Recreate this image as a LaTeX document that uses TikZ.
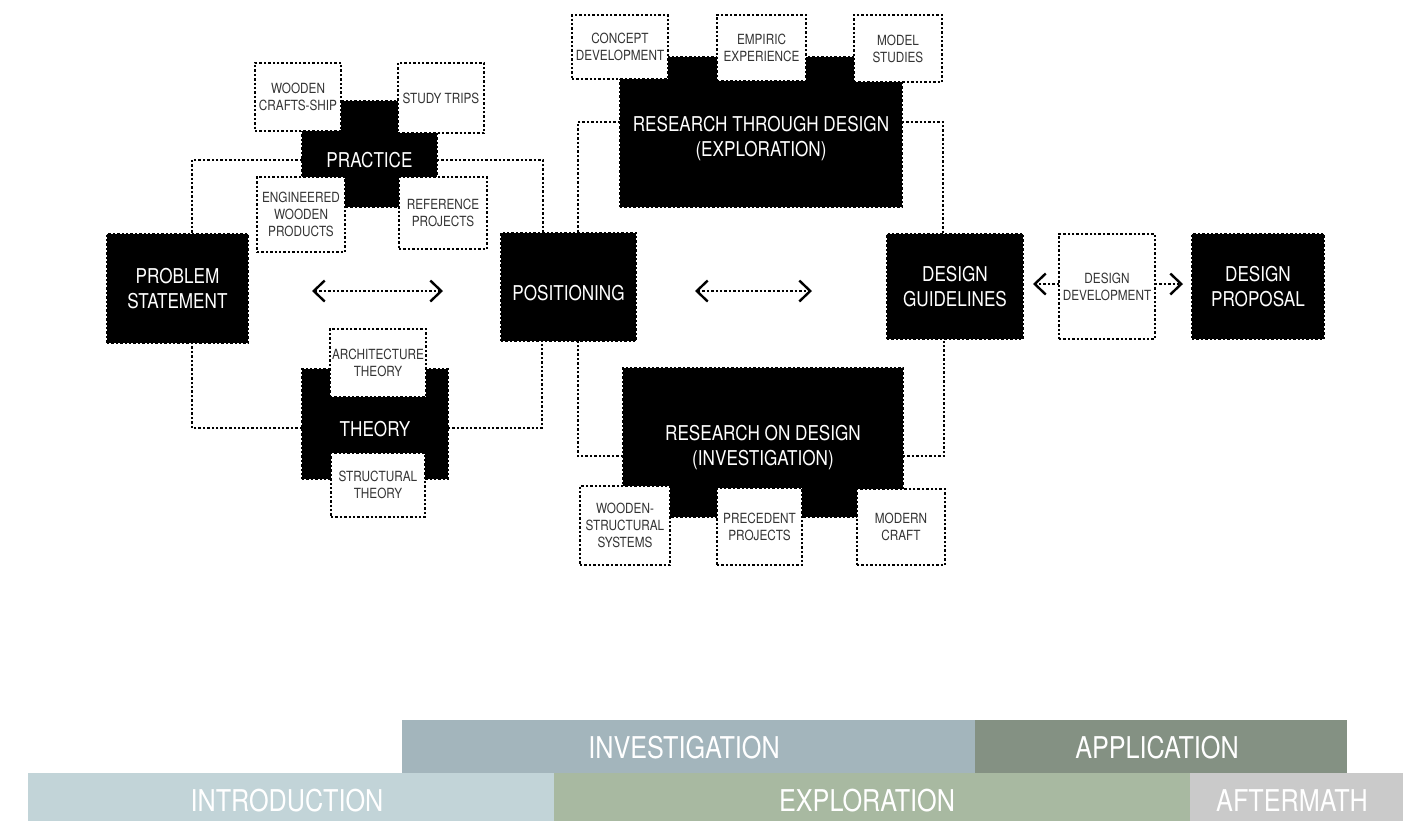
\documentclass[tikz,border=0pt]{standalone}
\usepackage{fontspec}
\setmainfont{TeX Gyre Heros}[FakeStretch=0.84]
\usetikzlibrary{arrows.meta}
\definecolor{txtgray}{HTML}{333333}
\definecolor{invcol}{HTML}{A3B5BC}
\definecolor{appcol}{HTML}{849183}
\definecolor{intcol}{HTML}{C2D4D8}
\definecolor{expcol}{HTML}{A8B9A1}
\definecolor{aftcol}{HTML}{CACACA}
\tikzset{
  dotpat/.style={line width=1.25pt, dash pattern=on 1.2pt off 1.0pt},
  conn/.style={dotpat, draw=black},
  blk/.style={dotpat, draw=black, fill=black, inner sep=0pt},
  blktxt/.style={text=white, font=\fontsize{10.2}{12.5}\selectfont, align=center, inner sep=0pt},
  wbox/.style={dotpat, draw=black, fill=white, text=txtgray, align=center, inner sep=0pt,
    font=\fontsize{7}{8.4}\selectfont},
  dbl/.style={dotpat, {Straight Barb[length=5.5pt,width=10.5pt,line width=1.2pt]}-{Straight Barb[length=5.5pt,width=10.5pt,line width=1.2pt]}},
  sgl/.style={dotpat, -{Straight Barb[length=5.5pt,width=10.5pt,line width=1.2pt]}},
  band/.style={inner sep=0pt, outer sep=0pt, text=white, font=\fontsize{15}{18}\selectfont},
}
\begin{document}
\begin{tikzpicture}[x=0.5pt, y=-0.5pt]
\useasboundingbox (0,0) rectangle (1413,821);

% ---------- black boxes (geometry) ----------
\node[blk, minimum width=70.5pt, minimum height=54.5pt] (ps) at (177.5,288.5) {};
\node[blk, minimum width=67.5pt, minimum height=53pt] (prac) at (369.5,154) {};
\node[blk, minimum width=67.5pt, minimum height=54pt] (pos) at (568.5,287) {};
\node[blk, minimum width=73pt, minimum height=55pt] (theo) at (375,424) {};
\node[blk, minimum width=141pt, minimum height=75pt] (rtd) at (761,132) {};
\node[blk, minimum width=140pt, minimum height=74.5pt] (rod) at (763,442.5) {};
\node[blk, minimum width=68pt, minimum height=52.5pt] (dg) at (955,286.5) {};
\node[blk, minimum width=66pt, minimum height=52.5pt] (dp) at (1258,286.5) {};

% ---------- connector corner coordinates ----------
\coordinate (psT) at (192,234);
\coordinate (psB) at (192,343);
\coordinate (posTl) at (543,233);
\coordinate (posTr) at (578,233);
\coordinate (posBl) at (542,341);
\coordinate (posBr) at (578,341);
\coordinate (dgT) at (943,234);
\coordinate (dgB) at (944,339);
\coordinate (pracL) at (302,160);
\coordinate (pracR) at (437,160);
\coordinate (theoL) at (302,428);
\coordinate (theoR) at (448,428);
\coordinate (rtdL) at (620,122);
\coordinate (rtdR) at (902,122);
\coordinate (rodL) at (623,456);
\coordinate (rodR) at (903,456);

% ---------- connectors ----------
\draw[conn] (pracL) -| (psT);
\draw[conn] (pracR) -| (posTl);
\draw[conn] (theoL) -| (psB);
\draw[conn] (theoR) -| (posBl);
\draw[conn] (rtdL) -| (posTr);
\draw[conn] (rtdR) -| (dgT);
\draw[conn] (rodL) -| (posBr);
\draw[conn] (rodR) -| (dgB);

% redraw black boxes over connector ends
\node[blk, minimum width=70.5pt, minimum height=54.5pt] at (ps) {};
\node[blk, minimum width=67.5pt, minimum height=53pt] at (prac) {};
\node[blk, minimum width=67.5pt, minimum height=54pt] at (pos) {};
\node[blk, minimum width=73pt, minimum height=55pt] at (theo) {};
\node[blk, minimum width=141pt, minimum height=75pt] at (rtd) {};
\node[blk, minimum width=140pt, minimum height=74.5pt] at (rod) {};
\node[blk, minimum width=68pt, minimum height=52.5pt] at (dg) {};
\node[blk, minimum width=66pt, minimum height=52.5pt] at (dp) {};

% ---------- black box labels ----------
\node[blktxt] (pst) at (177.5,289) {PROBLEM\\STATEMENT};
\node[blktxt] (prt) at (369.5,160) {PRACTICE};
\node[blktxt] (post) at (568.5,293) {POSITIONING};
\node[blktxt] (theot) at (375,429.5) {THEORY};
\node[blktxt] (rtdt) at (761,139) {RESEARCH THROUGH DESIGN\\(EXPLORATION)};
\node[blktxt] (rodt) at (763,448) {RESEARCH ON DESIGN\\(INVESTIGATION)};
\node[blktxt] (dgt) at (955,287) {DESIGN\\GUIDELINES};
\node[blktxt] (dpt) at (1258,287) {DESIGN\\PROPOSAL};

% ---------- white dotted boxes ----------
\node[wbox, minimum width=43pt, minimum height=34pt] (wcs) at (298,97) {WOODEN\\CRAFTS-SHIP};
\node[wbox, minimum width=43pt, minimum height=35pt] (st) at (441,98) {STUDY TRIPS};
\node[wbox, minimum width=44pt, minimum height=37.5pt] (ewp) at (301,214.5) {ENGINEERED\\WOODEN\\PRODUCTS};
\node[wbox, minimum width=44pt, minimum height=36pt] (rp) at (443,213) {REFERENCE\\PROJECTS};
\node[wbox, minimum width=48pt, minimum height=34pt] (at) at (378,363) {\raisebox{-3pt}{\shortstack{ARCHITECTURE\\THEORY}}};
\node[wbox, minimum width=47pt, minimum height=32pt] (sth) at (378,485) {STRUCTURAL\\THEORY};
\node[wbox, minimum width=48pt, minimum height=32pt] (cd) at (620,47) {CONCEPT\\DEVELOPMENT};
\node[wbox, minimum width=44.5pt, minimum height=33pt] (ee) at (761.5,48) {EMPIRIC\\EXPERIENCE};
\node[wbox, minimum width=44pt, minimum height=33.5pt] (ms) at (898,48.5) {MODEL\\STUDIES};
\node[wbox, minimum width=45pt, minimum height=39.5pt] (wss) at (625,525.5) {WOODEN-\\STRUCTURAL\\SYSTEMS};
\node[wbox, minimum width=42.5pt, minimum height=38.5pt] (pp) at (759.5,526.5) {PRECEDENT\\PROJECTS};
\node[wbox, minimum width=44pt, minimum height=38pt] (mc) at (901,527) {MODERN\\CRAFT};
\node[wbox, minimum width=48pt, minimum height=52.5pt] (dd) at (1107,286.5) {DESIGN\\DEVELOPMENT};

% ---------- arrows ----------
\coordinate (a1) at (312,291);
\coordinate (a2) at (443,291);
\coordinate (a3) at (695,291);
\coordinate (a4) at (812,291);
\draw[dbl] (a1) -- (a2);
\draw[dbl] (a3) -- (a4);
\coordinate (ddL) at (1059,284);
\coordinate (ddR) at (1155,284);
\coordinate (dgR) at (1033,284);
\coordinate (dpL) at (1183,284);
\draw[sgl] (ddL) -- (dgR);
\draw[sgl] (ddR) -- (dpL);

% ---------- phase bands ----------
\fill[invcol] (402,720) rectangle (975,773);
\fill[appcol] (975,720) rectangle (1347,773);
\fill[intcol] (28,773) rectangle (554,821);
\fill[expcol] (554,773) rectangle (1190,821);
\fill[aftcol] (1190,773) rectangle (1403,821);
\node[band] (inv) at (684,748) {INVESTIGATION};
\node[band] (app) at (1157,748) {APPLICATION};
\node[band] (intr) at (287,801) {INTRODUCTION};
\node[band] (expl) at (867,801) {EXPLORATION};
\node[band] (aft) at (1292,801) {AFTERMATH};
\end{tikzpicture}
\end{document}
